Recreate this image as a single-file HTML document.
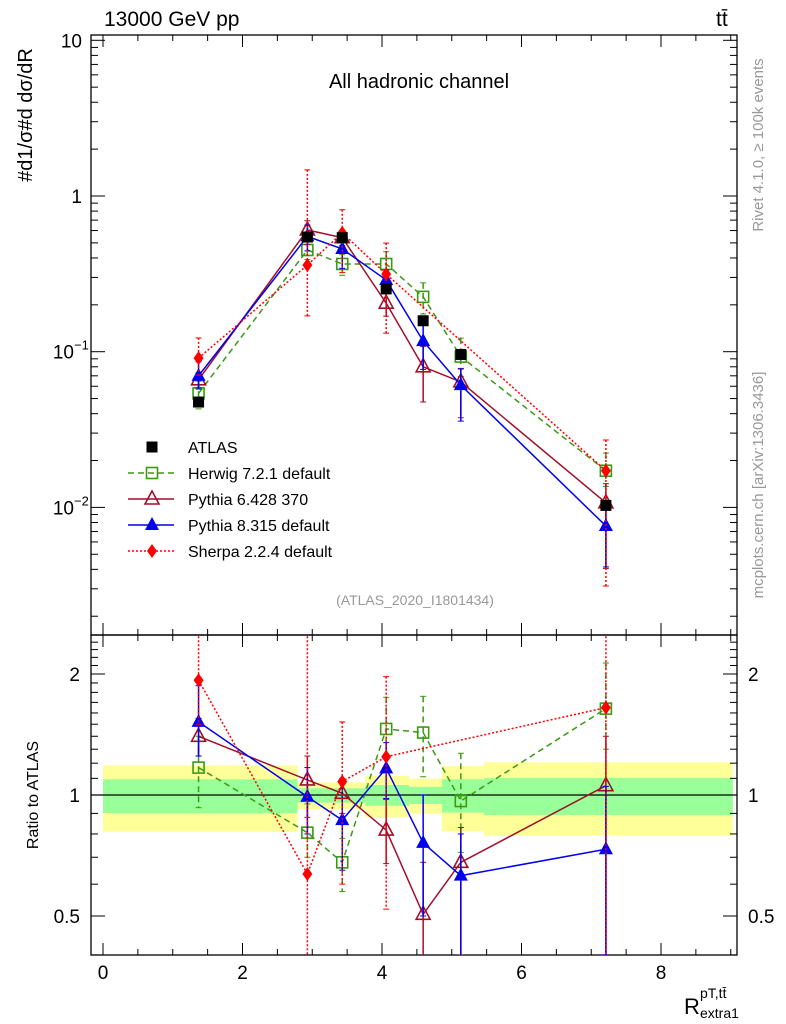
<!DOCTYPE html>
<html><head><meta charset="utf-8"><style>
body{margin:0;background:#fff;}
svg{display:block;font-family:"Liberation Sans",sans-serif;}
</style></head><body>
<svg id="c" width="786" height="1024" viewBox="0 0 786 1024"></svg>
<script>
const xs = [1.37, 2.93, 3.43, 4.06, 4.59, 5.13, 7.21];
const atlasVals = [0.0475, 0.545, 0.54, 0.253, 0.158, 0.096, 0.0103];
const herwigVals = [0.054, 0.45, 0.366, 0.366, 0.225, 0.093, 0.0172];
const py6Vals = [0.066, 0.605, 0.54, 0.205, 0.08, 0.064, 0.0107];
const py8Vals = [0.07, 0.55, 0.457, 0.289, 0.117, 0.061, 0.0076];
const sherpaX = [1.37, 2.93, 3.43, 4.06, 7.21];
const sherpaVals = [0.091, 0.36, 0.58, 0.315, 0.0172];
const herwigRatio = [1.17, 0.806, 0.68, 1.46, 1.43, 0.966, 1.64];
const herwigHi = [1.4, 0.95, 0.78, 1.75, 1.76, 1.27, 2.13];
const herwigLo = [0.93, 0.7, 0.575, 1.25, 1.11, 0.72, 1.3];
const py6Ratio = [1.40, 1.09, 1.01, 0.818, 0.505, 0.68, 1.055];
const py6Hi = [1.55, 1.25, 1.1, 0.975, 0.68, 0.83, 1.4];
const py6Lo = [1.25, 0.88, 0.9, 0.675, 0.3, 0.4, 0.4];
const py8Ratio = [1.52, 0.99, 0.866, 1.165, 0.76, 0.63, 0.733];
const py8Hi = [1.87, 1.17, 1.07, 1.35, 1.0, 0.8, 1.05];
const py8Lo = [1.25, 0.8, 0.65, 0.98, 0.5, 0.37, 0.4];
const sherpaRatio = [1.93, 0.636, 1.08, 1.245, 1.65];
const sherpaHi = [2.6, 2.6, 1.52, 1.97, 2.6];
const sherpaLo = [1.5, 0.3, 0.6, 0.52, 0.3];
const bandEdges = [0, 2.79, 3.76, 4.39, 4.86, 5.46, 9.03];
const yellowHi = [1.185, 1.075, 1.115, 1.098, 1.18, 1.206];
const yellowLo = [0.81, 0.923, 0.88, 0.898, 0.812, 0.792];
const greenHi = [1.094, 1.039, 1.059, 1.048, 1.094, 1.102];
const greenLo = [0.902, 0.957, 0.94, 0.95, 0.904, 0.892];
const xTicks = [0, 2, 4, 6, 8];

const NS="http://www.w3.org/2000/svg";
const svg=document.getElementById('c');
const L=91,R=737,T=35,M=635,B=955;
const X=v=>103+v*69.75;
const YM=v=>196-155.7*Math.log10(v);
const YR=v=>795-121*Math.log2(v);
function el(tag,attrs,parent){const e=document.createElementNS(NS,tag);for(const k in attrs)e.setAttribute(k,attrs[k]);(parent||svg).appendChild(e);return e;}
function txt(s,attrs,parent){const e=el('text',attrs,parent);e.textContent=s;return e;}

// clip paths
const defs=el('defs',{});
const cm=el('clipPath',{id:'cm'},defs);el('rect',{x:L,y:T,width:R-L,height:M-T},cm);
const cr=el('clipPath',{id:'cr'},defs);el('rect',{x:L,y:M,width:R-L,height:B-M},cr);

// band
const band=el('g',{'clip-path':'url(#cr)'});


for(let i=0;i<yellowHi.length;i++){
  const x0=X(bandEdges[i]),x1=X(bandEdges[i+1]);
  el('rect',{x:x0,y:YR(yellowHi[i]),width:x1-x0,height:YR(yellowLo[i])-YR(yellowHi[i]),fill:'#ffff99'},band);
}
for(let i=0;i<greenHi.length;i++){
  const x0=X(bandEdges[i]),x1=X(bandEdges[i+1]);
  el('rect',{x:x0,y:YR(greenHi[i]),width:x1-x0,height:YR(greenLo[i])-YR(greenHi[i]),fill:'#99ff99'},band);
}
el('line',{x1:L,x2:R,y1:YR(1),y2:YR(1),stroke:'#000','stroke-width':1.3});

// frames
el('rect',{x:L,y:T,width:R-L,height:M-T,fill:'none',stroke:'#000','stroke-width':1.3});
el('rect',{x:L,y:M,width:R-L,height:B-M,fill:'none',stroke:'#000','stroke-width':1.3});

// x ticks
for(let v=0;v<=9.05;v+=0.5){
  const big=Math.abs(v-Math.round(v/2)*2)<1e-6;
  const len=big?12:6;
  for(const [y0,dir] of [[M,-1],[T,1],[B,-1],[M,1]]){
    el('line',{x1:X(v),x2:X(v),y1:y0,y2:y0+dir*len,stroke:'#000'});
  }
}
xTicks.forEach(v=>{const t=txt(String(v),{x:X(v),y:979,'font-size':19,'text-anchor':'middle'});
});

// main y ticks
for(let d=-3;d<=1;d++){
  for(let m=1;m<=9;m++){
    const v=m*Math.pow(10,d);
    if(v<0.0015||v>10.5)continue;
    const y=YM(v),len=m==1?14:7;
    el('line',{x1:L,x2:L+len,y1:y,y2:y,stroke:'#000'});
    el('line',{x1:R,x2:R-len,y1:y,y2:y,stroke:'#000'});
  }
}
txt('10',{x:82,y:YM(10)+7,'font-size':19,'text-anchor':'end'});
txt('1',{x:82,y:YM(1)+7,'font-size':19,'text-anchor':'end'});
let t1=txt('10',{x:74,y:YM(0.1)+7,'font-size':19,'text-anchor':'end'});el('text',{},svg);
txt('−1',{x:74,y:YM(0.1)-2,'font-size':13});
txt('10',{x:74,y:YM(0.01)+7,'font-size':19,'text-anchor':'end'});
txt('−2',{x:74,y:YM(0.01)-2,'font-size':13});

// ratio y ticks
[0.4,0.5,0.6,0.7,0.8,0.9,1,1.1,1.2,1.3,1.4,1.5,1.6,1.7,1.8,1.9,2,2.1,2.2,2.3,2.4].forEach(v=>{
  const big=(v==0.5||v==1||v==2);const len=big?14:7;const y=YR(v);
  el('line',{x1:L,x2:L+len,y1:y,y2:y,stroke:'#000'});
  el('line',{x1:R,x2:R-len,y1:y,y2:y,stroke:'#000'});
});
[['2',2],['1',1],['0.5',0.5]].forEach(([s,v])=>{
  txt(s,{x:80,y:YR(v)+7,'font-size':19,'text-anchor':'end'});
  txt(s,{x:748,y:YR(v)+7,'font-size':19});
});

// markers
function marker(g,type,x,y,col){
  if(type=='sqfill')el('rect',{x:x-5.5,y:y-5.5,width:11,height:11,fill:col},g);
  if(type=='sqopen')el('rect',{x:x-5.5,y:y-5.5,width:11,height:11,fill:'none',stroke:col,'stroke-width':1.6},g);
  if(type=='triopen')el('polygon',{points:`${x},${y-8} ${x-7},${y+5} ${x+7},${y+5}`,fill:'none',stroke:col,'stroke-width':1.6},g);
  if(type=='trifill')el('polygon',{points:`${x},${y-8} ${x-7},${y+5} ${x+7},${y+5}`,fill:col},g);
  if(type=='diam')el('polygon',{points:`${x},${y-7} ${x-5},${y} ${x},${y+7} ${x+5},${y}`,fill:col},g);
}
function series(name,xv,main,rat,hi,lo,col,dash,type){
  const gm=el('g',{'clip-path':'url(#cm)'});
  
  
  const gr=el('g',{'clip-path':'url(#cr)'});
  
  
  const sa={fill:'none',stroke:col,'stroke-width':1.5};if(dash)sa['stroke-dasharray']=dash;
  el('polyline',Object.assign({points:xv.map((x,i)=>X(x)+','+YM(main[i])).join(' ')},sa),gm);
  el('polyline',Object.assign({points:xv.map((x,i)=>X(x)+','+YR(rat[i])).join(' ')},sa),gr);
  xv.forEach((x,i)=>{
    const px=X(x);
    const mh=main[i]*hi[i]/rat[i], ml=main[i]*lo[i]/rat[i];
    el('line',Object.assign({x1:px,x2:px,y1:YM(mh),y2:YM(ml)},sa),gm);
    el('line',Object.assign({x1:px,x2:px,y1:YR(hi[i]),y2:YR(lo[i])},sa),gr);
    [YM(mh),YM(ml)].forEach(y=>el('line',{x1:px-3,x2:px+3,y1:y,y2:y,stroke:col},gm));
    [YR(hi[i]),YR(lo[i])].forEach(y=>el('line',{x1:px-3,x2:px+3,y1:y,y2:y,stroke:col},gr));
    marker(gm,type,px,YM(main[i]),col);
    marker(gr,type,px,YR(rat[i]),col);
  });
}
series('herwig-series',xs,herwigVals,herwigRatio,herwigHi,herwigLo,'#3a9a12','6,4','sqopen');
series('pythia6-series',xs,py6Vals,py6Ratio,py6Hi,py6Lo,'#a0102a',null,'triopen');
series('pythia8-series',xs,py8Vals,py8Ratio,py8Hi,py8Lo,'#0000ee',null,'trifill');
series('sherpa-series',sherpaX,sherpaVals,sherpaRatio,sherpaHi,sherpaLo,'#ff0000','2,2','diam');
const ga=el('g',{});


xs.forEach((x,i)=>{
  el('line',{x1:X(x),x2:X(x),y1:YM(atlasVals[i]*1.08),y2:YM(atlasVals[i]/1.08),stroke:'#000'},ga);
  marker(ga,'sqfill',X(x),YM(atlasVals[i]),'#000');
});

// legend
const leg=el('g',{});


const entries=[['ATLAS','#000',null,'sqfill'],['Herwig 7.2.1 default','#3a9a12','6,4','sqopen'],['Pythia 6.428 370','#a0102a',null,'triopen'],['Pythia 8.315 default','#0000ee',null,'trifill'],['Sherpa 2.2.4 default','#ff0000','2,2','diam']];
entries.forEach((e,i)=>{
  const y=447+i*26;
  const g=el('g',{},leg);
  
  
  if(i>0){const a={x1:128,x2:174,y1:y,y2:y,stroke:e[1],'stroke-width':1.5};if(e[2])a['stroke-dasharray']=e[2];el('line',a,g);}
  marker(g,e[3],152,y,e[1]);
  txt(e[0],{x:188,y:y+6,'font-size':16},g);
});

// text labels
let t;
t=txt('13000 GeV pp',{x:104,y:26,'font-size':21});
t=txt('tt̄',{x:716,y:26,'font-size':21});
t=txt('All hadronic channel',{x:419,y:88,'font-size':20,'text-anchor':'middle'});
t=txt('(ATLAS_2020_I1801434)',{x:415,y:605,'font-size':14,'text-anchor':'middle',fill:'#999'});
t=txt('Rivet 4.1.0, ≥ 100k events',{x:0,y:0,'font-size':15,fill:'#999','text-anchor':'middle',transform:'translate(763,145) rotate(-90)'});
t=txt('mcplots.cern.ch [arXiv:1306.3436]',{x:0,y:0,'font-size':15,fill:'#999','text-anchor':'middle',transform:'translate(763,485) rotate(-90)'});
t=txt('Ratio to ATLAS',{x:0,y:0,'font-size':16,'text-anchor':'middle',transform:'translate(38,795) rotate(-90)'});
t=txt('#d1/σ#d dσ/dR',{x:0,y:0,'font-size':20,'text-anchor':'middle',transform:'translate(32,115) rotate(-90)'});
t=txt('R',{x:684,y:1014,'font-size':22});
txt('pT,tt̄',{x:700,y:998,'font-size':14});
txt('extra1',{x:700,y:1018,'font-size':14});
</script>
</body></html>
